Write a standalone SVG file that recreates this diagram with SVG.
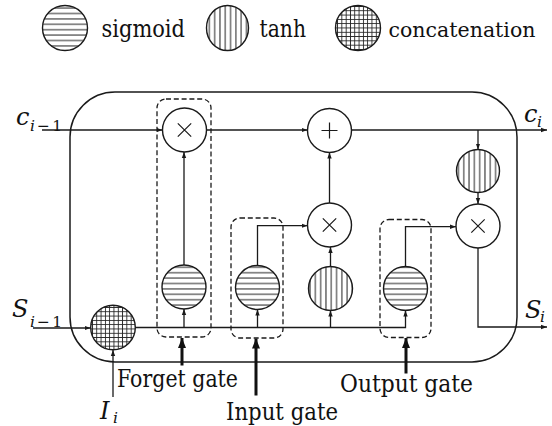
<svg xmlns="http://www.w3.org/2000/svg" width="552" height="426" viewBox="0 0 552 426">
<style>
.ln{fill:none;stroke:#1a1a1a;stroke-width:1.3}
.op{fill:#fff;stroke:#1a1a1a;stroke-width:1.4}
.sym{stroke:#1a1a1a;stroke-width:1.2;fill:none}
.dash{fill:none;stroke:#1a1a1a;stroke-width:1.3;stroke-dasharray:5 2.8}
.thick{fill:none;stroke:#111;stroke-width:3}
.sg{fill:url(#hz);stroke:#1a1a1a;stroke-width:1.4}
.th{fill:url(#vt);stroke:#1a1a1a;stroke-width:1.4}
.cc{fill:url(#grid);stroke:#1a1a1a;stroke-width:1.4}
.lbl{font-size:23.5px}
.var{font-size:24px;font-style:italic}
.sub{font-size:15.5px}
.it{font-style:italic}
</style>
<defs>
<pattern id="hz" width="10" height="5.4" patternUnits="userSpaceOnUse"><line x1="0" y1="2.7" x2="10" y2="2.7" stroke="#222" stroke-width="1"/></pattern>
<pattern id="vt" width="5.3" height="10" patternUnits="userSpaceOnUse"><line x1="2.65" y1="0" x2="2.65" y2="10" stroke="#222" stroke-width="1"/></pattern>
<pattern id="grid" width="4.3" height="4.3" patternUnits="userSpaceOnUse"><path d="M0,2.15H4.3M2.15,0V4.3" stroke="#222" stroke-width="0.9"/></pattern>
<marker id="ar" markerUnits="userSpaceOnUse" markerWidth="7" markerHeight="6" refX="6" refY="3" orient="auto"><path d="M0,0.8 L6,3 L0,5.2 z" fill="#1a1a1a"/></marker>
<marker id="big" markerUnits="userSpaceOnUse" markerWidth="10" markerHeight="12" refX="10" refY="4.5" orient="auto"><path d="M0,0.5 L10,4.5 L0,8.5 z" fill="#111"/></marker>
</defs>
<rect width="552" height="426" fill="#fff"/>

<g fill="#111">
<g id="legend">
<circle class="sg" cx="65" cy="28" r="22.5"/>
<text class="lbl" font-family="DejaVu Serif" x="101.5" y="37.3" textLength="83.5" lengthAdjust="spacingAndGlyphs">sigmoid</text>
<ellipse class="th" cx="227.5" cy="28" rx="21" ry="22.5"/>
<text class="lbl" font-family="DejaVu Serif" x="259.5" y="37.3" textLength="46.5" lengthAdjust="spacingAndGlyphs">tanh</text>
<circle class="cc" cx="358" cy="28" r="22.5"/>
<text font-family="DejaVu Serif" font-size="21" x="388.5" y="37.3" textLength="147" lengthAdjust="spacingAndGlyphs">concatenation</text>
</g>

<g id="cell">
<rect class="ln" x="70" y="92" width="447" height="270" rx="45" ry="45" style="stroke-width:1.5"/>
</g>

<g id="connectors">
<line class="ln" x1="42" y1="130" x2="162.5" y2="130" marker-end="url(#ar)"/>
<line class="ln" x1="206.5" y1="130" x2="307.5" y2="130" marker-end="url(#ar)"/>
<line class="ln" x1="351.5" y1="130" x2="547" y2="130" marker-end="url(#ar)"/>
<line class="ln" x1="478" y1="130" x2="478" y2="149.5" marker-end="url(#ar)"/>
<line class="ln" x1="478" y1="192.5" x2="478" y2="204" marker-end="url(#ar)"/>
<polyline class="ln" points="478,248 478,327 547,327" marker-end="url(#ar)"/>
<line class="ln" x1="184" y1="265" x2="184" y2="152" marker-end="url(#ar)"/>
<line class="ln" x1="329.5" y1="203" x2="329.5" y2="152.5" marker-end="url(#ar)"/>
<line class="ln" x1="330.5" y1="266.5" x2="330.5" y2="247" marker-end="url(#ar)"/>
<polyline class="ln" points="257.5,265.5 257.5,225.7 307.5,225.7" marker-end="url(#ar)"/>
<polyline class="ln" points="405.5,266.5 405.5,226.7 456,226.7" marker-end="url(#ar)"/>
<line class="ln" x1="33" y1="328" x2="90.5" y2="328" marker-end="url(#ar)"/>
<polyline class="ln" points="135.3,327.5 405.5,327.5 405.5,310.5" marker-end="url(#ar)"/>
<line class="ln" x1="184" y1="327.5" x2="184" y2="309" marker-end="url(#ar)"/>
<line class="ln" x1="257.5" y1="327.5" x2="257.5" y2="309.5" marker-end="url(#ar)"/>
<line class="ln" x1="330.5" y1="327.5" x2="330.5" y2="310.5" marker-end="url(#ar)"/>
<line class="ln" x1="113" y1="397" x2="113" y2="350" marker-end="url(#ar)"/>
<line class="thick" x1="182" y1="365.5" x2="182" y2="338" marker-end="url(#big)"/>
<line class="thick" x1="256" y1="395.5" x2="256" y2="338.5" marker-end="url(#big)"/>
<line class="thick" x1="406" y1="373.5" x2="406" y2="338" marker-end="url(#big)"/>
</g>

<g id="forget-gate">
<rect class="dash" x="157" y="99" width="54" height="238" rx="9"/>
<circle class="op" cx="184.5" cy="130" r="22"/>
<path class="sym" d="M177.8,123.3 L191.2,136.7 M191.2,123.3 L177.8,136.7"/>
<circle class="sg" cx="184" cy="287" r="22"/>
</g>

<g id="input-gate">
<rect class="dash" x="231" y="218" width="52" height="120" rx="9"/>
<circle class="sg" cx="257.5" cy="287.5" r="22"/>
</g>

<g id="output-gate">
<rect class="dash" x="380" y="219.5" width="51" height="118" rx="9"/>
<circle class="sg" cx="405.5" cy="288.5" r="22"/>
</g>

<g id="add">
<circle class="op" cx="329.5" cy="130.5" r="22"/>
<path class="sym" d="M321.5,130.5 H337.5 M329.5,122.5 V138.5"/>
</g>

<g id="mul-input">
<circle class="op" cx="329.5" cy="225" r="22"/>
<path class="sym" d="M322.8,218.3 L336.2,231.7 M336.2,218.3 L322.8,231.7"/>
</g>

<g id="tanh-input">
<circle class="th" cx="330.5" cy="288.5" r="22"/>
</g>

<g id="tanh-cell">
<circle class="th" cx="478" cy="171" r="21.5"/>
</g>

<g id="mul-output">
<circle class="op" cx="478" cy="226" r="22"/>
<path class="sym" d="M471.3,219.3 L484.7,232.7 M484.7,219.3 L471.3,232.7"/>
</g>

<g id="concat">
<circle class="cc" cx="113" cy="327.5" r="22.3"/>
</g>

<g id="labels">
<text class="var" font-family="DejaVu Serif" x="16" y="125">c</text>
<text class="sub" font-family="DejaVu Serif" x="30" y="130.7" textLength="32" lengthAdjust="spacing"><tspan class="it">i</tspan>−1</text>
<text class="var" font-family="DejaVu Serif" x="12" y="316.7">S</text>
<text class="sub" font-family="DejaVu Serif" x="30" y="326.7" textLength="32" lengthAdjust="spacing"><tspan class="it">i</tspan>−1</text>
<text class="var" font-family="DejaVu Serif" x="524" y="121.7">c</text>
<text class="sub it" font-family="DejaVu Serif" x="537" y="126.7">i</text>
<text class="var" font-family="DejaVu Serif" x="525" y="318.3">S</text>
<text class="sub it" font-family="DejaVu Serif" x="540" y="322">i</text>
<text class="var" font-family="DejaVu Serif" x="100" y="419">I</text>
<text class="sub it" font-family="DejaVu Serif" x="113" y="423">i</text>
<text class="lbl" font-family="DejaVu Serif" x="117" y="386.5" textLength="121" lengthAdjust="spacingAndGlyphs">Forget gate</text>
<text class="lbl" font-family="DejaVu Serif" x="226" y="420" textLength="112" lengthAdjust="spacingAndGlyphs">Input gate</text>
<text class="lbl" font-family="DejaVu Serif" x="340" y="392" textLength="133" lengthAdjust="spacingAndGlyphs">Output gate</text>
</g>
</g>
</svg>
